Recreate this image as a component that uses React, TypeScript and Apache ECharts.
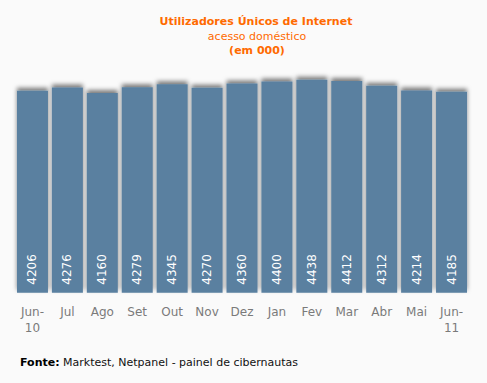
import React, { useEffect, useRef } from "react";
import * as echarts from "echarts";

const categories = ["Jun-\n10", "Jul", "Ago", "Set", "Out", "Nov", "Dez", "Jan", "Fev", "Mar", "Abr", "Mai", "Jun-\n11"];
const values = [4206, 4276, 4160, 4279, 4345, 4270, 4360, 4400, 4438, 4412, 4312, 4214, 4185];
const titleText = "Utilizadores Únicos de Internet";
const subText = "acesso doméstico";
const unitText = "(em 000)";
const sourceLabel = "Fonte:";
const sourceText = " Marktest, Netpanel - painel de cibernautas";

const FONT = "Verdana, 'DejaVu Sans', sans-serif";

export default function App() {
  const ref = useRef<HTMLDivElement>(null);
  useEffect(() => {
    const chart = echarts.init(ref.current!, null, { renderer: "svg" });
    chart.setOption({
      animation: false,
      backgroundColor: "#fafafa",
      grid: { left: 15, right: 18, top: 52.7, bottom: 90.3, containLabel: false },
      xAxis: {
        type: "category",
        data: categories,
        axisLine: { show: false },
        axisTick: { show: false },
        axisLabel: { color: "#7a7a7a", fontSize: 12, fontFamily: FONT, margin: 11, lineHeight: 16, interval: 0 },
      },
      yAxis: { type: "value", min: 0, max: 5000, show: false, splitLine: { show: false } },
      series: [
        {
          type: "bar",
          data: values,
          barWidth: 31,
          itemStyle: {
            color: "#5a80a0",
            shadowColor: "rgba(0,0,0,0.5)",
            shadowBlur: 4,
            shadowOffsetY: -3,
          },
          label: {
            show: true,
            position: "insideBottom",
            rotate: 90,
            align: "left",
            verticalAlign: "middle",
            distance: 8,
            color: "#ffffff",
            fontSize: 12,
            fontFamily: FONT,
          },
        },
      ],
      graphic: [
        {
          type: "text",
          x: 256,
          y: 16,
          style: { text: titleText, fill: "#ff6a00", font: `bold 11px ${FONT}`, textAlign: "center" },
        },
        {
          type: "text",
          x: 257,
          y: 31,
          style: { text: subText, fill: "#ff6a00", font: `11px ${FONT}`, textAlign: "center" },
        },
        {
          type: "text",
          x: 257,
          y: 45,
          style: { text: unitText, fill: "#ff6a00", font: `bold 11px ${FONT}`, textAlign: "center" },
        },
        {
          type: "text",
          left: 20,
          top: 357,
          style: {
            text: `{b|${sourceLabel}}{n|${sourceText}}`,
            rich: {
              b: { fontWeight: "bold", fontSize: 11, fontFamily: FONT, fill: "#000" } as any,
              n: { fontSize: 11, fontFamily: FONT, fill: "#111" } as any,
            },
          },
        },
      ],
    });
    return () => chart.dispose();
  }, []);
  return <div ref={ref} style={{ position: "fixed", left: 0, top: 0, width: 487, height: 383 }} />;
}
